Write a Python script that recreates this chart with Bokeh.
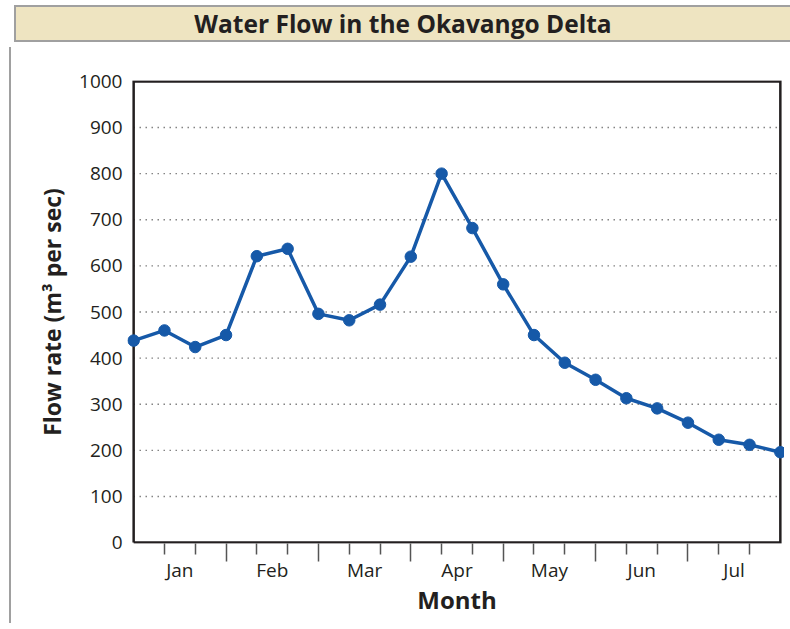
from bokeh.plotting import figure
from bokeh.models import FixedTicker, LinearAxis, Range1d, Div
from bokeh.layouts import column
from bokeh.embed import file_html
from bokeh.resources import INLINE
from bokeh.core.properties import value

# ---- data ----
chart_title = "Water Flow in the Okavango Delta"
months = ["Jan", "Feb", "Mar", "Apr", "May", "Jun", "Jul"]
samples_per_month = 3
flow = [438, 460, 424, 450, 621, 637, 496, 482, 516, 620, 800,
        682, 560, 450, 390, 353, 313, 291, 260, 223, 212, 196]
y_ticks = [0, 100, 200, 300, 400, 500, 600, 700, 800, 900, 1000]
x_label = "Month"
y_label = "Flow rate (m\u00b3 per sec)"

# ---- styles ----
FONT = "Open Sans"
BLUE = "#1659A8"
INK = "#231F20"
BEIGE = "#EEE4C1"
EDGE = "#A0A0A0"
W = 775

n = len(flow)
xs = list(range(n))

# ---- title bar ----
tb = Div(text=chart_title, width=W + 1, height=37,
         styles={"background-color": BEIGE,
                 "border-top": f"2px solid {EDGE}",
                 "border-bottom": f"2px solid {EDGE}",
                 "border-left": f"2px solid {EDGE}",
                 "box-sizing": "border-box",
                 "font-family": FONT, "font-weight": "bold",
                 "font-size": "24.5px", "color": INK,
                 "text-align": "center", "line-height": "33px"})

# ---- main plot ----
p = figure(width=W, height=576,
           x_range=Range1d(xs[0] - 0.2, xs[-1] + 0.2),
           y_range=Range1d(y_ticks[0] - 2, y_ticks[-1] + 2),
           x_axis_type=None, output_backend="svg", toolbar_location=None,
           min_border_left=116, min_border_right=0,
           min_border_top=33, min_border_bottom=80)
p.outline_line_color = None
p.grid.visible = False
p.background_fill_color = "white"

ya = p.yaxis[0]
ya.ticker = FixedTicker(ticks=y_ticks)
ya.axis_line_color = None
ya.major_tick_line_color = None
ya.minor_tick_line_color = None
ya.major_tick_in = 0
ya.major_tick_out = 0
ya.major_label_standoff = 5
ya.major_label_text_font = FONT
ya.major_label_text_font_size = "19px"
ya.major_label_text_color = INK
ya.axis_label = y_label
ya.axis_label_text_font = FONT
ya.axis_label_text_font_style = "bold"
ya.axis_label_text_font_size = "23px"
ya.axis_label_text_color = INK
ya.axis_label_standoff = 8

# tick axis: long ticks at month boundaries, short at each sample
boundaries = [k * samples_per_month for k in range(1, len(months))]
minor = [i for i in xs[1:-1] if i % samples_per_month != 0]
ax_ticks = LinearAxis(ticker=FixedTicker(ticks=boundaries, minor_ticks=minor),
                      major_label_overrides={b: "" for b in boundaries},
                      axis_line_color=None,
                      major_tick_in=0, major_tick_out=18,
                      minor_tick_in=0, minor_tick_out=11,
                      major_tick_line_color="#555555", minor_tick_line_color="#555555",
                      major_tick_line_width=1.5, minor_tick_line_width=1.5,
                      major_label_text_font_size="1px", major_label_standoff=0)
p.add_layout(ax_ticks, "below")

centers = [k * samples_per_month + samples_per_month / 2 for k in range(len(months))]
ax_lab = LinearAxis(ticker=FixedTicker(ticks=centers, minor_ticks=[]),
                    major_label_overrides={c: m for c, m in zip(centers, months)},
                    axis_line_color=None, major_tick_line_color=None,
                    minor_tick_line_color=None, major_tick_in=0, major_tick_out=0,
                    major_label_standoff=-5,
                    major_label_text_font=FONT, major_label_text_font_size="19px",
                    major_label_text_color=INK,
                    axis_label=x_label, axis_label_text_font=FONT,
                    axis_label_text_font_style="bold", axis_label_text_font_size="24px",
                    axis_label_text_color=INK, axis_label_standoff=-3)
p.add_layout(ax_lab, "below")

# dotted gridlines inside the box
grid_vals = y_ticks[1:-1]
p.segment(x0=[xs[0]] * len(grid_vals), y0=grid_vals,
          x1=[xs[-1]] * len(grid_vals), y1=grid_vals,
          line_color="#444444", line_width=1.4, line_dash="1 5")

# box frame
p.line(x=[xs[0], xs[-1], xs[-1], xs[0], xs[0]],
       y=[y_ticks[0], y_ticks[0], y_ticks[-1], y_ticks[-1], y_ticks[0]],
       line_color=INK, line_width=2.5, line_join="miter")

# data
p.line(xs, flow, line_color=BLUE, line_width=3.5, line_join="round")
p.scatter(xs, flow, size=11.5, fill_color=BLUE, line_color=BLUE)

p.styles = {"border-left": f"2px solid {EDGE}", "box-sizing": "border-box"}

layout = column(tb, p, margin=(0, 0, 0, 9))

open("out.html", "w").write(file_html(layout, INLINE))
